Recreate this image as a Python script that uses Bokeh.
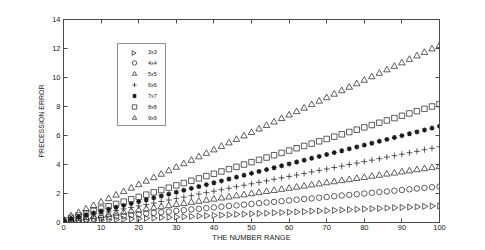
import math
from bokeh.plotting import figure
from bokeh.models import LinearAxis, FixedTicker, Range1d, Legend, LegendItem
from bokeh.embed import file_html
from bokeh.resources import INLINE

# ---- data ----
number_range = list(range(0, 101, 2))

err_3x3 = [0.05, 0.07, 0.09, 0.12, 0.14, 0.16, 0.18, 0.20, 0.23, 0.25, 0.27, 0.29, 0.31, 0.34, 0.36, 0.38, 0.40,
           0.42, 0.45, 0.47, 0.49, 0.51, 0.53, 0.56, 0.58, 0.60, 0.62, 0.64, 0.67, 0.69, 0.71, 0.73, 0.75, 0.78,
           0.80, 0.82, 0.84, 0.86, 0.89, 0.91, 0.93, 0.95, 0.97, 1.00, 1.02, 1.04, 1.06, 1.08, 1.11, 1.13, 1.15]
err_4x4 = [0.08, 0.13, 0.18, 0.22, 0.27, 0.32, 0.37, 0.42, 0.46, 0.51, 0.56, 0.61, 0.66, 0.70, 0.75, 0.80, 0.85,
           0.90, 0.94, 0.99, 1.04, 1.09, 1.14, 1.18, 1.23, 1.28, 1.33, 1.38, 1.42, 1.47, 1.52, 1.57, 1.62, 1.66,
           1.71, 1.76, 1.81, 1.86, 1.90, 1.95, 2.00, 2.05, 2.10, 2.14, 2.19, 2.24, 2.29, 2.34, 2.38, 2.43, 2.48]
err_5x5 = [0.10, 0.18, 0.25, 0.33, 0.40, 0.48, 0.55, 0.63, 0.70, 0.78, 0.85, 0.93, 1.00, 1.08, 1.15, 1.23, 1.30,
           1.38, 1.45, 1.53, 1.60, 1.68, 1.75, 1.83, 1.90, 1.98, 2.05, 2.13, 2.20, 2.28, 2.35, 2.43, 2.50, 2.58,
           2.65, 2.73, 2.80, 2.88, 2.95, 3.03, 3.10, 3.18, 3.25, 3.33, 3.40, 3.48, 3.55, 3.63, 3.70, 3.78, 3.85]
err_6x6 = [0.12, 0.22, 0.32, 0.43, 0.53, 0.63, 0.73, 0.83, 0.94, 1.04, 1.14, 1.24, 1.34, 1.45, 1.55, 1.65, 1.75,
           1.85, 1.96, 2.06, 2.16, 2.26, 2.36, 2.47, 2.57, 2.67, 2.77, 2.87, 2.98, 3.08, 3.18, 3.28, 3.38, 3.49,
           3.59, 3.69, 3.79, 3.89, 4.00, 4.10, 4.20, 4.30, 4.40, 4.51, 4.61, 4.71, 4.81, 4.91, 5.02, 5.12, 5.22]
err_7x7 = [0.14, 0.27, 0.40, 0.53, 0.66, 0.79, 0.92, 1.05, 1.18, 1.31, 1.44, 1.57, 1.70, 1.83, 1.96, 2.09, 2.22,
           2.35, 2.48, 2.61, 2.74, 2.87, 3.00, 3.13, 3.26, 3.39, 3.52, 3.65, 3.78, 3.91, 4.04, 4.17, 4.30, 4.43,
           4.56, 4.69, 4.82, 4.95, 5.08, 5.21, 5.34, 5.47, 5.60, 5.73, 5.86, 5.99, 6.12, 6.25, 6.38, 6.51, 6.64]
err_8x8 = [0.16, 0.32, 0.48, 0.64, 0.80, 0.96, 1.12, 1.28, 1.44, 1.60, 1.76, 1.92, 2.08, 2.24, 2.40, 2.56, 2.72,
           2.88, 3.04, 3.20, 3.36, 3.52, 3.68, 3.84, 4.00, 4.16, 4.32, 4.48, 4.64, 4.80, 4.96, 5.12, 5.28, 5.44,
           5.60, 5.76, 5.92, 6.08, 6.24, 6.40, 6.56, 6.72, 6.88, 7.04, 7.20, 7.36, 7.52, 7.68, 7.84, 8.00, 8.16]
err_9x9 = [0.20, 0.44, 0.68, 0.92, 1.16, 1.40, 1.64, 1.88, 2.12, 2.36, 2.60, 2.84, 3.08, 3.32, 3.56, 3.80, 4.04,
           4.28, 4.52, 4.76, 5.00, 5.24, 5.48, 5.72, 5.96, 6.20, 6.44, 6.68, 6.92, 7.16, 7.40, 7.64, 7.88, 8.12,
           8.36, 8.60, 8.84, 9.08, 9.32, 9.56, 9.80, 10.04, 10.28, 10.52, 10.76, 11.00, 11.24, 11.48, 11.72,
           11.96, 12.20]

series_labels = ["3x3", "4x4", "5x5", "6x6", "7x7", "8x8", "9x9"]
series_values = [err_3x3, err_4x4, err_5x5, err_6x6, err_7x7, err_8x8, err_9x9]

x_ticks = [0, 10, 20, 30, 40, 50, 60, 70, 80, 90, 100]
y_ticks = [0, 2, 4, 6, 8, 10, 12, 14]

# ---- styles ----
marker_styles = [
    dict(marker="triangle", size=6, angle=-math.pi / 2),
    dict(marker="circle", size=5.5, angle=0),
    dict(marker="triangle", size=6.5, angle=0),
    dict(marker="cross", size=6, angle=0),
    dict(marker="asterisk", size=5, angle=0),
    dict(marker="square", size=5.5, angle=0),
    dict(marker="triangle", size=6.5, angle=0),
]

FONT = "Liberation Sans"
AXIS_COLOR = "#4a4a4a"
MARK_COLOR = "#1a1a1a"

X0, X1, Y0, Y1 = 0, 100, 0, 14
BORDER_L, BORDER_R, BORDER_T, BORDER_B = 63, 38, 19, 24
WIDTH, HEIGHT = 477, 246
FRAME_W = WIDTH - BORDER_L - BORDER_R
FRAME_H = HEIGHT - BORDER_T - BORDER_B

# legend geometry (screen px, relative to the frame's bottom-left)
LEG_X, LEG_Y = 54, 96
LEG_PAD, LEG_GW, LEG_ROW = 2, 28, 11

p = figure(width=WIDTH, height=HEIGHT, output_backend="svg", toolbar_location=None,
           x_range=Range1d(X0, X1), y_range=Range1d(Y0, Y1),
           x_axis_location=None, y_axis_location=None,
           min_border_left=BORDER_L, min_border_right=BORDER_R,
           min_border_top=BORDER_T, min_border_bottom=BORDER_B)
p.xgrid.visible = False
p.ygrid.visible = False
p.outline_line_color = AXIS_COLOR
p.background_fill_color = "white"
p.border_fill_color = "white"


def style_axis(ax, show_labels):
    ax.axis_line_color = AXIS_COLOR
    ax.axis_line_width = 1
    ax.major_tick_line_color = AXIS_COLOR
    ax.major_tick_in = 4
    ax.major_tick_out = 0
    ax.minor_tick_line_color = None
    ax.major_label_text_font = FONT
    ax.axis_label_text_font = FONT
    ax.axis_label_text_font_style = "normal"
    ax.axis_label_text_color = "#222222"
    if show_labels:
        ax.major_label_text_font_size = "7.5px"
        ax.major_label_text_color = "#222222"
    else:
        ax.major_label_text_font_size = "1px"
        ax.major_label_text_color = None
        ax.major_label_standoff = 0


xb = LinearAxis(ticker=FixedTicker(ticks=x_ticks), axis_label="THE NUMBER RANGE")
style_axis(xb, True)
xb.major_label_standoff = 2
xb.axis_label_standoff = 0
xb.axis_label_text_font_size = "7.5px"
p.add_layout(xb, "below")

yl = LinearAxis(ticker=FixedTicker(ticks=y_ticks), axis_label="PRECESSION ERROR")
style_axis(yl, True)
yl.major_label_standoff = 3
yl.axis_label_standoff = 4
yl.axis_label_text_font_size = "7px"
p.add_layout(yl, "left")

xt = LinearAxis(ticker=FixedTicker(ticks=x_ticks))
style_axis(xt, False)
p.add_layout(xt, "above")

yr = LinearAxis(ticker=FixedTicker(ticks=y_ticks))
style_axis(yr, False)
p.add_layout(yr, "right")

items = []
rotated = []
for i, (label, vals, st) in enumerate(zip(series_labels, series_values, marker_styles)):
    r = p.scatter(number_range, vals, marker=st["marker"], size=st["size"], angle=st["angle"],
                  fill_color=None, line_color=MARK_COLOR,
                  line_width=1.2 if st["marker"] == "asterisk" else 0.7)
    if st["angle"] != 0:
        # Bokeh legends ignore marker angle: blank legend glyph, rotated key drawn in its place
        blank = p.scatter([], [], marker="triangle", fill_color=None, line_color=None)
        items.append(LegendItem(label=label, renderers=[blank]))
        rotated.append((i, st))
    else:
        items.append(LegendItem(label=label, renderers=[r]))

# the legend region holds no data points, so a transparent legend background lets the key show
legend = Legend(items=items, location=(LEG_X, LEG_Y),
                label_text_font=FONT, label_text_font_size="5.5px", label_text_color="#222222",
                glyph_width=LEG_GW, glyph_height=LEG_ROW, label_height=LEG_ROW, label_width=15,
                label_standoff=0, spacing=0, padding=LEG_PAD, margin=0,
                border_line_color="#222222", border_line_width=0.8,
                background_fill_color="white", background_fill_alpha=0.0)
p.add_layout(legend, "center")

n_rows = len(series_labels)
leg_top = LEG_Y + 2 * LEG_PAD + n_rows * LEG_ROW
for i, st in rotated:
    cy_px = leg_top - LEG_PAD - LEG_ROW * i - LEG_ROW / 2
    cx_px = LEG_X + LEG_PAD + LEG_GW / 2
    kx = X0 + cx_px * (X1 - X0) / FRAME_W
    ky = Y0 + cy_px * (Y1 - Y0) / FRAME_H
    p.scatter([kx], [ky], marker=st["marker"], size=4.6, angle=st["angle"],
              fill_color=None, line_color=MARK_COLOR, line_width=0.7)

open("out.html", "w").write(file_html(p, INLINE))
